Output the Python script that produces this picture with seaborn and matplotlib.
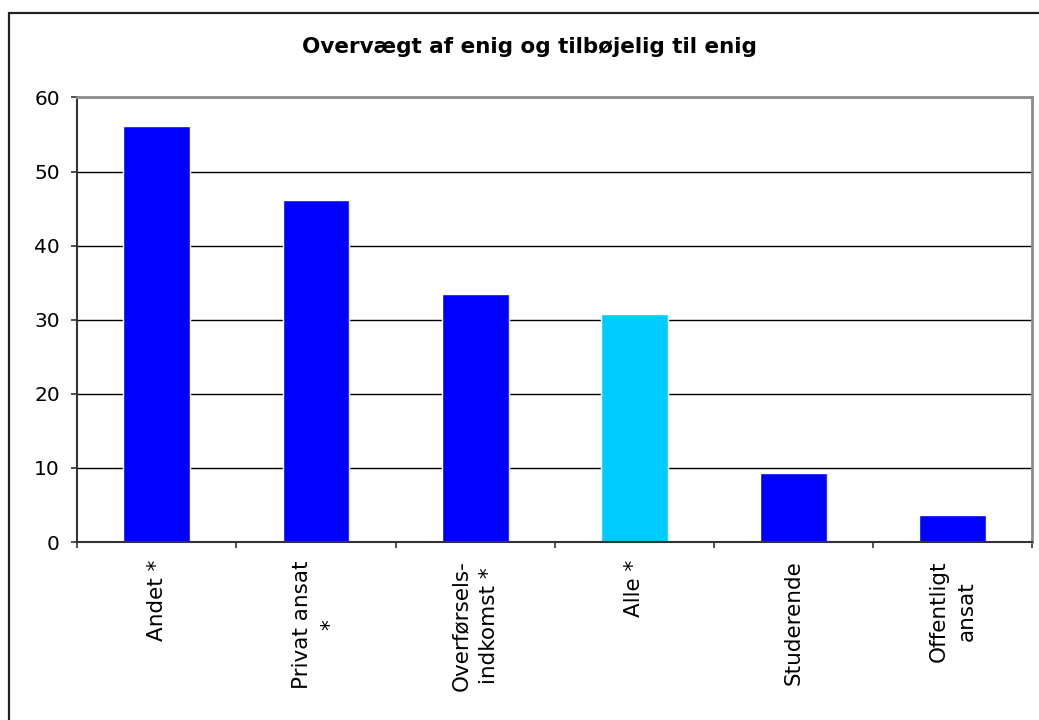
import matplotlib

matplotlib.use("Agg")
import numpy as np
import seaborn as sns
from matplotlib import pyplot as plt
from matplotlib.patches import Rectangle

# data
categories = [
    "Andet *",
    "Privat ansat\n*",
    "Overførsels-\nindkomst *",
    "Alle *",
    "Studerende",
    "Offentligt\nansat",
]
values = [56.2, 46.2, 33.5, 30.8, 9.3, 3.6]
bar_colors = ["#0000FF", "#0000FF", "#0000FF", "#00CCFF", "#0000FF", "#0000FF"]
y_ticks = [0, 10, 20, 30, 40, 50, 60]
title = "Overvægt af enig og tilbøjelig til enig"

sns.set_style("white")
plt.rcParams["font.family"] = ["DejaVu Sans"]
plt.rcParams["text.color"] = "black"
plt.rcParams["xtick.color"] = "black"
plt.rcParams["ytick.color"] = "black"

fig = plt.figure(figsize=(10.39, 7.2), dpi=100)
ax = fig.add_axes([0.0744, 0.2472, 0.9189, 0.6174])

sns.barplot(
    x=categories,
    y=values,
    hue=categories,
    palette=bar_colors,
    legend=False,
    width=0.42,
    saturation=1,
    ax=ax,
)

ax.set_xlim(-0.5, len(categories) - 0.5)
ax.set_ylim(0, 60)
ax.set_yticks(y_ticks)
ax.set_axisbelow(True)
ax.yaxis.grid(True, color="black", linewidth=1)
ax.xaxis.grid(False)

# spines like the old spreadsheet look
ax.spines["left"].set_color("#333333")
ax.spines["bottom"].set_color("#333333")
ax.spines["top"].set_color("#8c8c8c")
ax.spines["right"].set_color("#8c8c8c")
for side in ["left", "bottom"]:
    ax.spines[side].set_linewidth(1.5)
for side in ["top", "right"]:
    ax.spines[side].set_linewidth(2)

ax.tick_params(axis="y", direction="out", length=4.5, width=1.2, color="#333333",
               left=True, labelsize=14.5, labelcolor="black", pad=8)
ax.set_xticks(np.arange(len(categories)))
ax.set_xticklabels(categories, rotation=90, fontsize=15.5, va="top", ha="center",
                   multialignment="center", linespacing=1.5, color="black")
ax.tick_params(axis="x", which="major", length=0, pad=13)
ax.set_xticks(np.arange(len(categories) + 1) - 0.5, minor=True)
ax.tick_params(axis="x", which="minor", direction="out", length=4.5, width=1.2,
               color="#333333", bottom=True)
ax.set_xlabel("")
ax.set_ylabel("")

fig.text(0.51, 0.9347, title, ha="center", va="center", fontsize=15.5,
         fontweight="bold", color="black")

# outer chart frame (cut off at right and bottom as in the reference)
fig.patches.append(
    Rectangle((9 / 1039, -0.1), 1.2, 0.9826 + 0.1, transform=fig.transFigure,
              fill=False, edgecolor="#222222", linewidth=1.6)
)

fig.savefig("out.png", dpi=100)
